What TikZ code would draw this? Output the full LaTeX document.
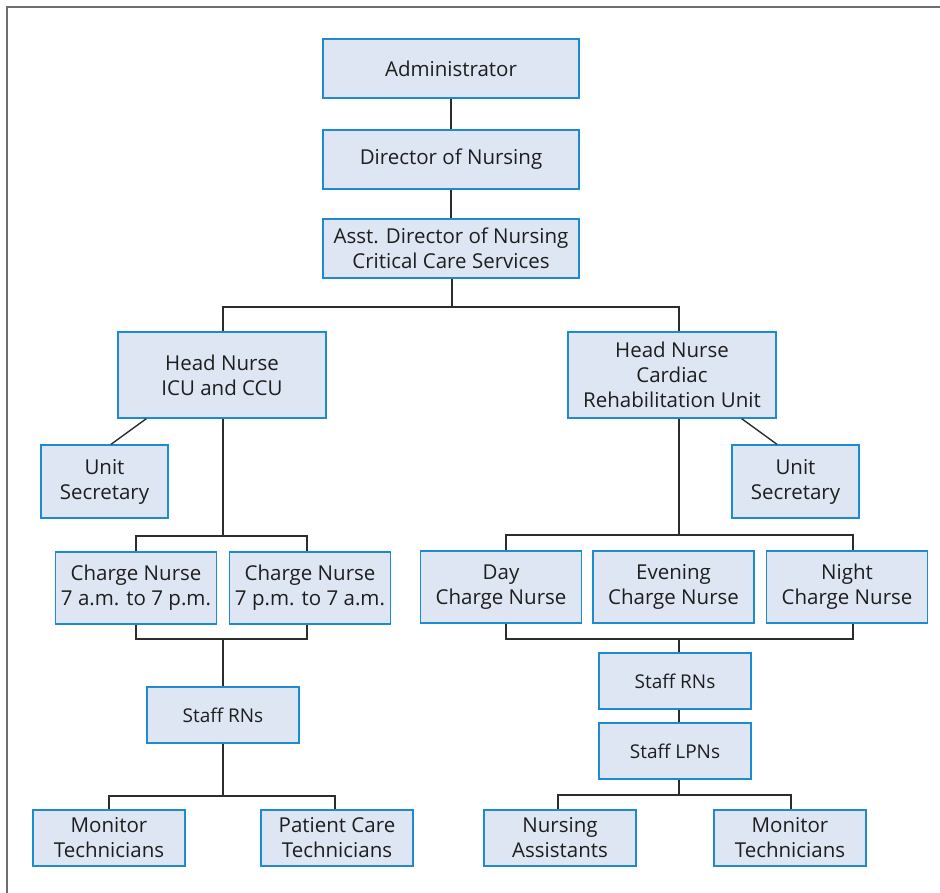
\documentclass[tikz,border=0pt]{standalone}
\usepackage{fontspec}
\setmainfont{Open Sans}
\usepackage{xcolor}
\usepackage{tikz}
\usetikzlibrary{positioning}
\definecolor{box-fill}{RGB}{223,230,243}
\definecolor{box-line}{RGB}{30,138,208}
\definecolor{link-line}{RGB}{45,45,45}
\definecolor{frame-line}{RGB}{110,110,110}
\definecolor{label-text}{RGB}{30,30,30}

\begin{document}
\begin{tikzpicture}[
    x=1pt, y=-1pt,
    unit/.style={rectangle, draw=box-line, fill=box-fill, line width=1.3pt,
                 inner sep=0pt, align=center, text=label-text,
                 font=\fontsize{20.5}{25}\selectfont},
    wide/.style={unit, minimum width=256pt, minimum height=59pt},
    head/.style={unit, minimum width=208pt, minimum height=86pt},
    sec/.style={unit, minimum width=127pt, minimum height=73pt},
    shiftbox/.style={unit, minimum width=161pt, minimum height=72pt},
    staff/.style={unit, minimum width=152pt, minimum height=56pt},
    small/.style={font=\fontsize{19}{24}\selectfont},
    link/.style={draw=link-line, line width=1.4pt},
]
\useasboundingbox (0,0) rectangle (940,893);
\draw[frame-line, line width=1.3pt] (7,893) -- (7,7) -- (940,7);

\node[wide] (admin) at (451, 68.5) {Administrator};
\node[wide] (dir) at (451, 159.5) {Director of Nursing};
\node[wide] (asst) at (451, 248.5) {Asst. Director of Nursing\\Critical Care Services};

\node[head] (hicu) at (222, 375) {Head Nurse\\ICU and CCU};
\node[head] (hcru) at (672, 375) {Head Nurse\\Cardiac\\Rehabilitation Unit};

\node[sec] (secl) at (104.5, 481.5) {Unit\\Secretary};
\node[sec] (secr) at (795.5, 481.5) {Unit\\Secretary};

\node[shiftbox] (cnday) at (136, 588) {Charge Nurse\\7 a.m. to 7 p.m.};
\node[shiftbox] (cnnight) at (310, 588) {Charge Nurse\\7 p.m. to 7 a.m.};

\node[shiftbox] (day) at (501, 587) {Day\\Charge Nurse};
\node[shiftbox] (eve) at (673.5, 587) {Evening\\Charge Nurse};
\node[shiftbox] (night) at (847, 587) {Night\\Charge Nurse};

\node[staff, small] (rnl) at (223, 715) {Staff RNs};
\node[staff, small] (rnr) at (675, 681) {Staff RNs};
\node[staff, small] (lpn) at (675, 751) {Staff LPNs};

\node[staff] (mtl) at (109, 838) {Monitor\\Technicians};
\node[staff] (pct) at (337, 838) {Patient Care\\Technicians};
\node[staff] (na) at (560, 838) {Nursing\\Assistants};
\node[staff] (mtr) at (790, 838) {Monitor\\Technicians};

\coordinate (top-bus) at (452, 307);
\coordinate (icu-bus) at (223, 536);
\coordinate (icu-join) at (223, 639);
\coordinate (tech-bus) at (223, 796);
\coordinate (cru-bus) at (679, 535);
\coordinate (cru-join) at (679, 639);
\coordinate (aide-bus) at (679, 795);

\draw[link] (admin) -- (dir);
\draw[link] (dir) -- (asst);
\draw[link] (asst.south -| top-bus) -- (top-bus);
\draw[link] (hicu.north -| icu-bus) |- (top-bus) -| ([xshift=7pt]hcru.north);

\draw[link] ([xshift=29pt]hicu.south west) -- ([xshift=6.5pt]secl.north);
\draw[link] ([xshift=-35pt]hcru.south east) -- ([xshift=-18.5pt]secr.north);

\draw[link] (hicu.south -| icu-bus) -- (icu-bus);
\draw[link] (cnday.north) |- (icu-bus) -| ([xshift=-3pt]cnnight.north);
\draw[link] (cnday.south) |- (icu-join) -| ([xshift=-3pt]cnnight.south);
\draw[link] (icu-join) -- (rnl);
\draw[link] (rnl) -- (tech-bus);
\draw[link] (mtl.north) |- (tech-bus) -| ([xshift=-2pt]pct.north);

\draw[link] ([xshift=7pt]hcru.south) -- (cru-bus);
\draw[link] ([xshift=5pt]day.north) |- (cru-bus) -| ([xshift=6pt]night.north);
\draw[link] ([xshift=5pt]day.south) |- (cru-join) -| ([xshift=6pt]night.south);
\draw[link] (cru-join) -- ([xshift=4pt]rnr.north);
\draw[link] ([xshift=4pt]rnr.south) -- ([xshift=4pt]lpn.north);
\draw[link] ([xshift=4pt]lpn.south) -- (aide-bus);
\draw[link] ([xshift=-2pt]na.north) |- (aide-bus) -| ([xshift=1pt]mtr.north);

\end{tikzpicture}
\end{document}
